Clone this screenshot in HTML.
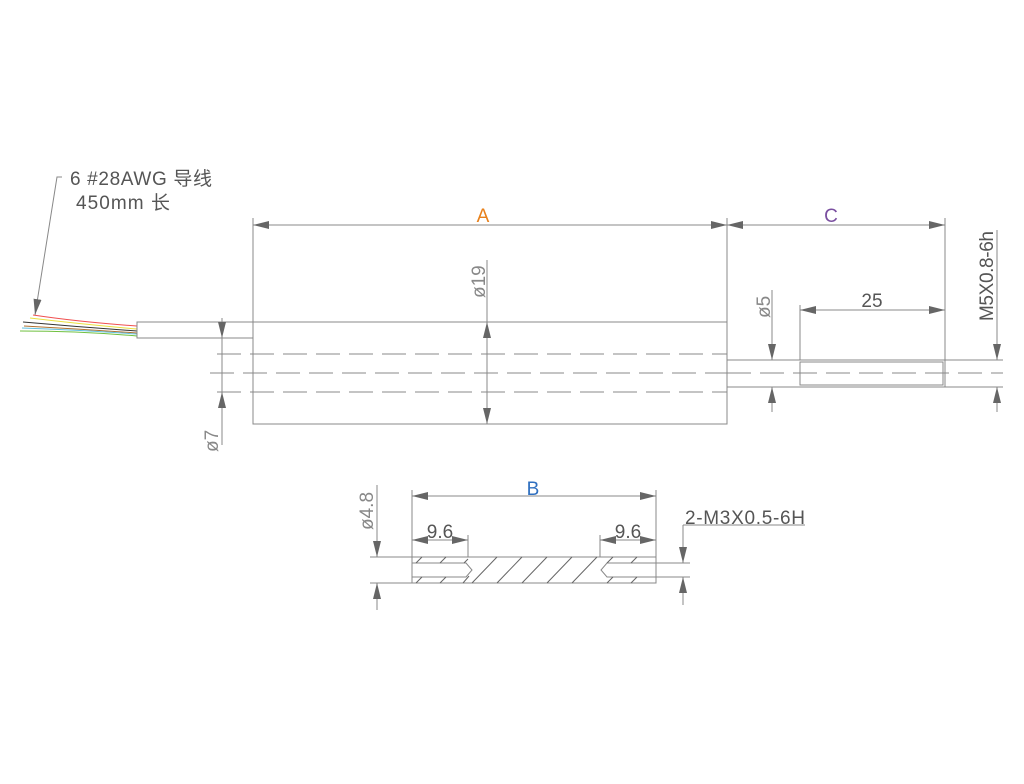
<!DOCTYPE html>
<html><head><style>body{margin:0;background:#fff}</style></head><body>
<svg width="1024" height="779" viewBox="0 0 1024 779" xmlns="http://www.w3.org/2000/svg" font-family="Liberation Sans, Noto Sans CJK SC, sans-serif">
<defs>
<marker id="a" viewBox="0 0 16 8" refX="16" refY="4" markerWidth="16" markerHeight="8" markerUnits="userSpaceOnUse" orient="auto-start-reverse"><path d="M0,0L16,4L0,8z" fill="#666"/></marker>
</defs>
<g stroke="#888" stroke-width="1" fill="none">
<!-- wires -->
<path d="M33,315 Q80,322 137,326" stroke="#f05050"/>
<path d="M30,318 Q80,324 137,329" stroke="#e8e040"/>
<path d="M23,322 Q80,327 137,331" stroke="#333"/>
<path d="M24,326 Q80,329 137,333" stroke="#b07030"/>
<path d="M22,328 Q80,330 137,334" stroke="#60c0e0"/>
<path d="M20,331 Q80,331 137,336" stroke="#70c040"/>
<rect x="137" y="322" width="116" height="16"/>
<rect x="253" y="322" width="474" height="102"/>
<path d="M217,354H727M210,373H727M217,392H727" stroke-dasharray="24,9"/>
<rect x="727" y="360" width="218" height="27"/>
<rect x="800" y="362" width="143" height="23"/>
<path d="M727,373H1003" stroke-dasharray="24,9"/>
<path d="M945,360H1003M945,387H1003"/>
<!-- extension lines -->
<path d="M253,218V322M727,218V322M945,218V360M800,305V360M218,338H253"/>
<!-- dims -->
<path d="M253,225H727" marker-start="url(#a)" marker-end="url(#a)"/>
<path d="M727,225H945" marker-start="url(#a)" marker-end="url(#a)"/>
<path d="M800,310H945" marker-start="url(#a)" marker-end="url(#a)"/>
<path d="M487,260V322"/>
<path d="M487,373V322" marker-end="url(#a)"/>
<path d="M487,373V424" marker-end="url(#a)"/>
<path d="M222,318V338" marker-end="url(#a)"/>
<path d="M222,445V392" marker-end="url(#a)"/>
<path d="M222,338V392"/>
<path d="M772,290V360" marker-end="url(#a)"/>
<path d="M772,412V387" marker-end="url(#a)"/>
<path d="M997,230V360" marker-end="url(#a)"/>
<path d="M997,412V387" marker-end="url(#a)"/>
<path d="M62,177L57,177L35,315" marker-end="url(#a)"/>
<!-- bottom part -->
<rect x="412" y="557" width="244" height="26"/>
<path d="M412,563H466L472,570L466,577H412M656,563H607L601,570L607,577H656"/>
<path d="M370,557H412M370,583H412M656,563H690M656,577H690"/>
<path d="M412,490V557M656,490V557M468,535V557M600,535V557"/>
<path d="M412,496H656" marker-start="url(#a)" marker-end="url(#a)"/>
<path d="M412,540H468" marker-start="url(#a)" marker-end="url(#a)"/>
<path d="M600,540H656" marker-start="url(#a)" marker-end="url(#a)"/>
<path d="M377,485V557" marker-end="url(#a)"/>
<path d="M377,610V583" marker-end="url(#a)"/>
<path d="M683,525H805M683,525V563" />
<path d="M683,545V563" marker-end="url(#a)"/>
<path d="M683,605V577" marker-end="url(#a)"/>
<g stroke="#666">
<path d="M472,583L497,557M497,583L522,557M522,583L547,557M547,583L572,557M572,583L597,557M469,576L463,583"/>
<path d="M416,563L422,557M440,563L446,557M464,563L468,559M416,583L422,577M440,583L446,577M607,563L613,557M631,563L637,557M607,583L613,577M631,583L637,577"/>
</g>
</g>
<g fill="#555" font-size="19">
<text x="70" y="185" textLength="142">6 #28AWG 导线</text>
<text x="76" y="209" textLength="94">450mm 长</text>
<text x="483" y="222" fill="#e8801a" text-anchor="middle">A</text>
<text x="831" y="222" fill="#7a4fa0" text-anchor="middle">C</text>
<text x="872" y="307" text-anchor="middle">25</text>
<text x="533" y="495" fill="#3070c0" text-anchor="middle">B</text>
<text x="440" y="538" text-anchor="middle">9.6</text>
<text x="628" y="538" text-anchor="middle">9.6</text>
<text x="685" y="524" textLength="120">2-M3X0.5-6H</text>
<text transform="translate(993,321) rotate(-90)" textLength="90">M5X0.8-6h</text>
<text fill="#888" transform="translate(485,298) rotate(-90)">ø19</text>
<text fill="#888" transform="translate(770,318) rotate(-90)">ø5</text>
<text fill="#888" transform="translate(218,452) rotate(-90)">ø7</text>
<text fill="#888" transform="translate(373,530) rotate(-90)">ø4.8</text>
</g>
</svg>
</body></html>
